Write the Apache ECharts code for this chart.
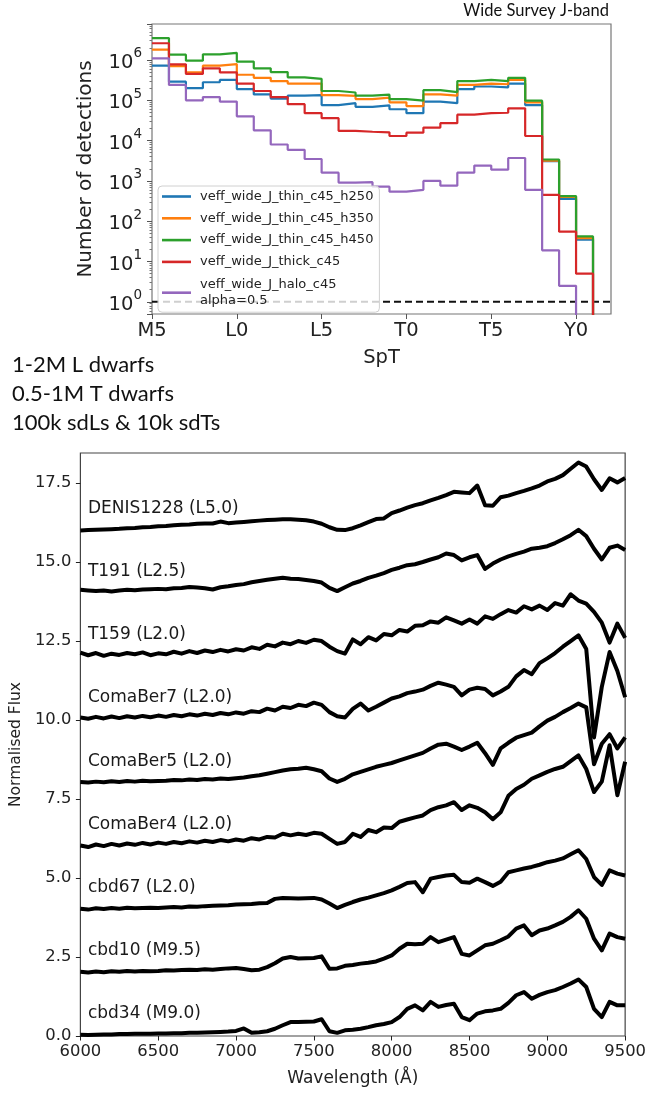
<!DOCTYPE html>
<html><head><meta charset="utf-8">
<script src="https://cdn.jsdelivr.net/npm/echarts@6/dist/echarts.min.js"></script>
<style>html,body{margin:0;padding:0;background:#fff}#c{width:649px;height:1093px}</style>
</head><body><div id="c"></div>
<script>
// ---------- Top panel: histogram of detections per spectral-type bin ----------
const sptTickLabels = ['M5', 'L0', 'L5', 'T0', 'T5', 'Y0'];
const histNames = ['veff_wide_J_thin_c45_h250', 'veff_wide_J_thin_c45_h350', 'veff_wide_J_thin_c45_h450', 'veff_wide_J_thick_c45', 'veff_wide_J_halo_c45'];
const histColors = ['#1f77b4', '#ff7f0e', '#2ca02c', '#d62728', '#9467bd'];
const thinH250 = [7.2e5, 2.9e5, 2.0e5, 2.8e5, 3.2e5, 1.9e5, 1.4e5, 1.1e5, 1.3e5, 1.35e5, 7.6e4, 8.5e4, 6.9e4, 7.5e4, 6.0e4, 4.8e4, 9.3e4, 8.5e4, 1.9e5, 2.2e5, 2.1e5, 2.6e5, 7.6e4, 3.1e3, 3.6e2, 35];
const thinH350 = [1.8e6, 7.0e5, 4.9e5, 7.2e5, 7.9e5, 4.3e5, 3.6e5, 3.0e5, 2.6e5, 2.6e5, 1.35e5, 1.28e5, 1.07e5, 1.17e5, 8.9e4, 7.2e4, 1.4e5, 1.3e5, 2.4e5, 2.6e5, 2.5e5, 3.2e5, 8.9e4, 3.2e3, 4.0e2, 38];
const thinH450 = [3.5e6, 1.35e6, 9.6e5, 1.38e6, 1.5e6, 9.1e5, 6.2e5, 5.0e5, 3.7e5, 3.4e5, 1.7e5, 1.56e5, 1.3e5, 1.38e5, 1.07e5, 9.8e4, 1.78e5, 1.6e5, 3.0e5, 3.2e5, 3.0e5, 3.6e5, 9.8e4, 3.4e3, 4.2e2, 42];
const thick = [2.6e6, 7.8e5, 4.5e5, 6.2e5, 4.9e5, 2.6e5, 1.7e5, 1.2e5, 8.0e4, 4.8e4, 3.6e4, 1.75e4, 1.66e4, 1.6e4, 1.3e4, 1.57e4, 2.1e4, 2.7e4, 4.4e4, 4.8e4, 4.9e4, 6.3e4, 1.3e4, 4.5e2, 55, 5];
const halo = [1.1e6, 2.4e5, 1.0e5, 1.2e5, 9.3e4, 4.0e4, 1.8e4, 8.0e3, 5.9e3, 3.5e3, 1.6e3, 9.1e2, 9.3e2, 7.2e2, 5.4e2, 6.0e2, 1.0e3, 7.6e2, 1.6e3, 2.4e3, 1.9e3, 3.7e3, 6.0e2, 19, 2.5, 0];
const histValues = [thinH250, thinH350, thinH450, thick, halo];
const detectionThreshold = 1;

// ---------- Bottom panel: offset spectra ----------
const wavelength = [6000,6050,6100,6150,6200,6250,6300,6350,6400,6450,6500,6550,6600,6650,6700,6750,6800,6850,6900,6950,7000,7050,7100,7150,7200,7250,7300,7350,7400,7450,7500,7550,7600,7650,7700,7750,7800,7850,7900,7950,8000,8050,8100,8150,8200,8250,8300,8350,8400,8450,8500,8550,8600,8650,8700,8750,8800,8850,8900,8950,9000,9050,9100,9150,9200,9250,9300,9350,9400,9450,9500];
const specNames = ['DENIS1228 (L5.0)', 'T191 (L2.5)', 'T159 (L2.0)', 'ComaBer7 (L2.0)', 'ComaBer5 (L2.0)', 'ComaBer4 (L2.0)', 'cbd67 (L2.0)', 'cbd10 (M9.5)', 'cbd34 (M9.0)'];
const specOffsets = [16, 14, 12, 10, 8, 6, 4, 2, 0];
const fluxDENIS1228 = [16.00,16.01,16.02,16.03,16.04,16.05,16.07,16.08,16.10,16.11,16.13,16.14,16.16,16.18,16.19,16.21,16.22,16.22,16.28,16.23,16.25,16.27,16.29,16.31,16.33,16.34,16.35,16.35,16.34,16.32,16.28,16.21,16.10,16.02,16.01,16.07,16.16,16.26,16.36,16.38,16.55,16.63,16.72,16.80,16.86,16.95,17.03,17.12,17.22,17.20,17.18,17.42,16.80,16.78,17.05,17.10,17.18,17.25,17.33,17.42,17.55,17.63,17.75,17.95,18.15,18.02,17.62,17.28,17.65,17.52,17.66];
const fluxT191 = [14.12,14.10,14.08,14.10,14.07,14.10,14.12,14.11,14.13,14.14,14.15,14.14,14.17,14.18,14.21,14.19,14.17,14.13,14.20,14.23,14.27,14.30,14.36,14.40,14.44,14.47,14.50,14.47,14.46,14.43,14.40,14.35,14.18,14.08,14.20,14.32,14.40,14.50,14.57,14.65,14.75,14.82,14.90,14.93,15.00,15.08,15.15,15.27,15.22,15.05,15.15,15.22,14.78,14.95,15.08,15.18,15.26,15.33,15.42,15.45,15.50,15.60,15.72,15.85,16.02,15.82,15.42,15.08,15.45,15.52,15.38];
const fluxT159 = [12.13,12.05,12.12,12.03,12.10,12.06,12.12,12.08,12.14,12.05,12.11,12.08,12.16,12.10,12.18,12.12,12.20,12.15,12.22,12.17,12.24,12.20,12.30,12.25,12.38,12.33,12.45,12.40,12.50,12.44,12.54,12.50,12.32,12.18,12.10,12.55,12.40,12.62,12.52,12.72,12.68,12.85,12.80,12.98,13.00,13.12,13.08,13.25,13.15,13.05,13.18,13.05,13.28,13.20,13.35,13.48,13.40,13.60,13.50,13.62,13.48,13.70,13.62,13.98,13.78,13.68,13.42,13.08,12.45,13.05,12.60];
const fluxComaBer7 = [10.08,10.04,10.10,10.05,10.11,10.06,10.12,10.08,10.13,10.09,10.14,10.10,10.16,10.12,10.18,10.14,10.20,10.16,10.22,10.18,10.24,10.20,10.28,10.25,10.36,10.30,10.42,10.38,10.48,10.44,10.55,10.48,10.25,10.12,10.08,10.35,10.52,10.30,10.42,10.55,10.68,10.75,10.85,10.90,10.96,11.08,11.18,11.12,11.05,10.78,10.96,11.02,10.98,10.78,10.90,11.05,11.38,11.58,11.45,11.80,11.95,12.12,12.32,12.50,12.68,12.25,9.45,11.05,12.15,11.55,10.72];
const fluxComaBer5 = [8.04,8.02,8.05,8.03,8.06,8.04,8.07,8.05,8.08,8.06,8.07,8.08,8.10,8.09,8.12,8.10,8.13,8.12,8.15,8.13,8.16,8.18,8.22,8.25,8.30,8.35,8.40,8.44,8.46,8.49,8.44,8.38,8.15,8.04,8.14,8.28,8.36,8.44,8.52,8.58,8.64,8.72,8.80,8.88,8.96,9.10,9.22,9.25,9.16,9.05,9.16,9.28,8.95,8.58,9.10,9.28,9.44,9.52,9.60,9.80,9.98,10.10,10.25,10.38,10.52,10.40,8.60,9.25,9.55,9.10,9.45];
const fluxComaBer4 = [6.03,5.98,6.06,6.01,6.08,6.03,6.09,6.05,6.11,6.06,6.12,6.08,6.14,6.10,6.16,6.12,6.18,6.14,6.20,6.16,6.22,6.18,6.26,6.22,6.30,6.28,6.40,6.35,6.40,6.36,6.43,6.40,6.24,6.08,6.14,6.40,6.30,6.52,6.45,6.60,6.58,6.78,6.85,6.92,6.98,7.15,7.24,7.30,7.40,7.15,7.30,7.22,7.08,6.86,7.08,7.60,7.82,7.95,8.14,8.25,8.36,8.45,8.52,8.70,8.88,8.45,7.72,8.05,9.20,7.62,8.68];
const fluxCbd67 = [4.03,4.00,4.04,4.02,4.05,4.03,4.06,4.04,4.05,4.06,4.05,4.07,4.08,4.07,4.10,4.09,4.11,4.12,4.13,4.14,4.16,4.17,4.18,4.20,4.21,4.34,4.37,4.36,4.35,4.36,4.37,4.32,4.19,4.05,4.15,4.24,4.32,4.38,4.45,4.52,4.61,4.72,4.84,4.87,4.55,4.98,5.03,5.08,5.10,4.87,4.85,4.98,4.87,4.75,4.88,5.18,5.24,5.30,5.35,5.42,5.50,5.55,5.62,5.75,5.88,5.60,5.03,4.78,5.24,5.14,5.08];
const fluxCbd10 = [2.03,2.01,2.04,2.02,2.05,2.03,2.06,2.04,2.06,2.05,2.06,2.08,2.07,2.09,2.10,2.09,2.11,2.10,2.12,2.14,2.15,2.12,2.08,2.10,2.18,2.30,2.45,2.50,2.45,2.46,2.47,2.52,2.13,2.14,2.22,2.25,2.29,2.32,2.36,2.45,2.55,2.76,2.92,2.90,2.92,3.13,2.97,3.05,3.13,2.60,2.55,2.71,2.87,2.92,3.03,3.15,3.40,3.50,3.19,3.34,3.40,3.50,3.61,3.77,3.98,3.71,3.08,2.71,3.24,3.13,3.08];
const fluxCbd34 = [0.04,0.03,0.04,0.05,0.05,0.06,0.06,0.07,0.07,0.07,0.08,0.08,0.09,0.09,0.10,0.10,0.11,0.12,0.13,0.14,0.16,0.24,0.10,0.12,0.15,0.23,0.34,0.44,0.44,0.45,0.46,0.53,0.15,0.10,0.18,0.20,0.23,0.28,0.34,0.38,0.44,0.60,0.86,0.97,0.81,1.08,0.92,0.98,1.02,0.60,0.50,0.71,0.78,0.81,0.86,1.05,1.29,1.39,1.18,1.30,1.39,1.45,1.55,1.66,1.79,1.55,0.86,0.60,1.08,0.97,0.97];
const specFlux = [fluxDENIS1228, fluxT191, fluxT159, fluxComaBer7, fluxComaBer5, fluxComaBer4, fluxCbd67, fluxCbd10, fluxCbd34];
const specTickValues = [0, 2.5, 5, 7.5, 10, 12.5, 15, 17.5];

// ---------- Chart ----------
const chart = echarts.init(document.getElementById('c'), null, {renderer: 'canvas'});
const TXT = '#222';
const FONT = 'DejaVu Sans';
const SPT_MAX = 27.06;
const LOG_FLOOR = 0.05; // empty bins drawn below the axis floor (clipped)

function stepData(vals) {
  const d = [];
  vals.forEach((v, i) => d.push([i, v > 0 ? v : LOG_FLOOR]));
  d.push([vals.length, LOG_FLOOR]);
  return d;
}

const series = [];
// dashed reference line at one detection
series.push({
  name: 'threshold', type: 'line', xAxisIndex: 0, yAxisIndex: 0,
  data: [[0, detectionThreshold], [SPT_MAX, detectionThreshold]],
  showSymbol: false, symbol: 'none', silent: true,
  lineStyle: {color: '#111', type: [7, 4], width: 2}, emphasis: {disabled: true}, z: 2
});
histValues.forEach((vals, k) => {
  series.push({
    name: histNames[k], type: 'line', xAxisIndex: 0, yAxisIndex: 0,
    data: stepData(vals), step: 'end', showSymbol: false, symbol: 'none', clip: true,
    lineStyle: {color: histColors[k], width: 2.2}, itemStyle: {color: histColors[k]},
    emphasis: {disabled: true}, z: 2
  });
});

specFlux.forEach((flux, k) => {
  series.push({
    name: specNames[k], type: 'line', xAxisIndex: 1, yAxisIndex: 1,
    data: wavelength.map((w, i) => [w, flux[i]]),
    showSymbol: false, symbol: 'none', clip: true,
    lineStyle: {color: '#000', width: 4, join: 'round'},
    emphasis: {disabled: true}, z: 3
  });
});

// spectrum name labels, placed in data coordinates
series.push({
  type: 'scatter', xAxisIndex: 1, yAxisIndex: 1, symbolSize: 1, silent: true,
  itemStyle: {opacity: 1, color: 'rgba(0,0,0,0)'},
  data: specOffsets.map((o, k) => ({value: [6045, o + 0.70], name: specNames[k]})),
  label: {show: true, position: 'right', distance: 0, formatter: p => p.name, opacity: 1,
          color: '#1a1a1a', fontFamily: FONT, fontSize: 17},
  z: 5
});

const legendData = histNames.map(n => (n === 'veff_wide_J_halo_c45'
  ? {name: n, textStyle: {lineHeight: 15.5}}
  : {name: n}));

const option = {
  animation: false,
  backgroundColor: '#fff',
  grid: [
    {left: 152, right: 38, top: 24, bottom: 779, show: true, borderColor: '#777', borderWidth: 1.2, backgroundColor: 'transparent'},
    {left: 79, right: 21.5, top: 453, bottom: 57, show: true, borderColor: '#444', borderWidth: 1.2, backgroundColor: 'transparent'}
  ],
  xAxis: [
    {type: 'value', gridIndex: 0, min: 0, max: SPT_MAX, interval: 5,
     name: 'SpT', nameLocation: 'middle', nameGap: 34,
     nameTextStyle: {color: TXT, fontFamily: FONT, fontSize: 19.5},
     axisLine: {show: false}, splitLine: {show: false},
     axisTick: {show: true, inside: false, length: 5, lineStyle: {color: '#555'}},
     axisLabel: {color: TXT, fontFamily: FONT, fontSize: 19.5, margin: 7, showMaxLabel: false,
                 formatter: v => (Math.abs(v % 5) < 1e-6 ? (sptTickLabels[Math.round(v / 5)] || '') : '')}},
    {type: 'value', gridIndex: 1, min: 6000, max: 9500, interval: 500,
     name: 'Wavelength (Å)', nameLocation: 'middle', nameGap: 34,
     nameTextStyle: {color: TXT, fontFamily: FONT, fontSize: 17},
     axisLine: {show: false}, splitLine: {show: false},
     axisTick: {show: true, inside: false, length: 4.5, lineStyle: {color: '#222'}},
     axisLabel: {color: TXT, fontFamily: FONT, fontSize: 16.4, margin: 8, showMinLabel: true, showMaxLabel: true,
                 formatter: v => String(Math.round(v))}}
  ],
  yAxis: [
    {type: 'log', gridIndex: 0, min: 0.5, max: 7.8e6, logBase: 10,
     name: 'Number of detections', nameLocation: 'middle', nameGap: 56, nameRotate: 90,
     nameTextStyle: {color: TXT, fontFamily: FONT, fontSize: 20},
     axisLine: {show: false}, splitLine: {show: false},
     axisTick: {show: true, inside: false, length: 5, lineStyle: {color: '#555'}},
     minorTick: {show: true, splitNumber: 9, length: 2.5, lineStyle: {color: '#777'}},
     axisLabel: {color: TXT, fontFamily: FONT, margin: 10, showMinLabel: false, showMaxLabel: false,
       formatter: v => {
         const e = Math.log10(v); const r = Math.round(e);
         if (Math.abs(e - r) > 1e-6) return '';
         return '{b|10}{s|' + r + '}';
       },
       rich: {b: {fontSize: 19.5, fontFamily: FONT, color: TXT, lineHeight: 26, verticalAlign: 'bottom'},
              s: {fontSize: 13.5, fontFamily: FONT, color: TXT, lineHeight: 14, verticalAlign: 'top'}}}},
    {type: 'value', gridIndex: 1, min: 0, max: 18.45, interval: 2.5,
     name: 'Normalised Flux', nameLocation: 'middle', nameGap: 52,
     nameTextStyle: {color: TXT, fontFamily: FONT, fontSize: 15.5},
     axisLine: {show: false}, splitLine: {show: false},
     axisTick: {show: true, inside: false, length: 4.5, lineStyle: {color: '#222'}},
     axisLabel: {color: TXT, fontFamily: FONT, fontSize: 16.4, margin: 9, showMaxLabel: false,
                 formatter: v => (specTickValues.some(t => Math.abs(t - v) < 1e-6) ? v.toFixed(1) : '')}}
  ],
  legend: {
    show: true, orient: 'vertical', left: 158, top: 186,
    data: legendData, icon: 'rect', itemWidth: 29, itemHeight: 2.6, itemGap: 8.8,
    padding: [4, 6, 4, 4],
    backgroundColor: 'rgba(255,255,255,0.8)', borderColor: '#d0d0d0', borderWidth: 1, borderRadius: 4,
    textStyle: {color: TXT, fontFamily: FONT, fontSize: 13, lineHeight: 11.5, padding: [0, 0, 0, 4]},
    formatter: n => (n === 'veff_wide_J_halo_c45' ? n + '\nalpha=0.5' : n),
    selectedMode: false, z: 10
  },
  graphic: [
    {type: 'text', x: 609, y: 11, silent: true, z: 20,
     style: {text: 'Wide Survey J-band', fill: '#111', font: '16.5px Lato', textAlign: 'right', textVerticalAlign: 'middle', align: 'right', verticalAlign: 'middle'}},
    {type: 'text', x: 12, y: 365, silent: true, z: 20,
     style: {text: '1-2M L dwarfs', fill: '#111', font: '22px Lato', textAlign: 'left', textVerticalAlign: 'middle', align: 'left', verticalAlign: 'middle'}},
    {type: 'text', x: 12, y: 394, silent: true, z: 20,
     style: {text: '0.5-1M T dwarfs', fill: '#111', font: '22px Lato', textAlign: 'left', textVerticalAlign: 'middle', align: 'left', verticalAlign: 'middle'}},
    {type: 'text', x: 12, y: 423, silent: true, z: 20,
     style: {text: '100k sdLs & 10k sdTs', fill: '#111', font: '22px Lato', textAlign: 'left', textVerticalAlign: 'middle', align: 'left', verticalAlign: 'middle'}}
  ],
  series: series
};
chart.setOption(option);
</script>
</body></html>
